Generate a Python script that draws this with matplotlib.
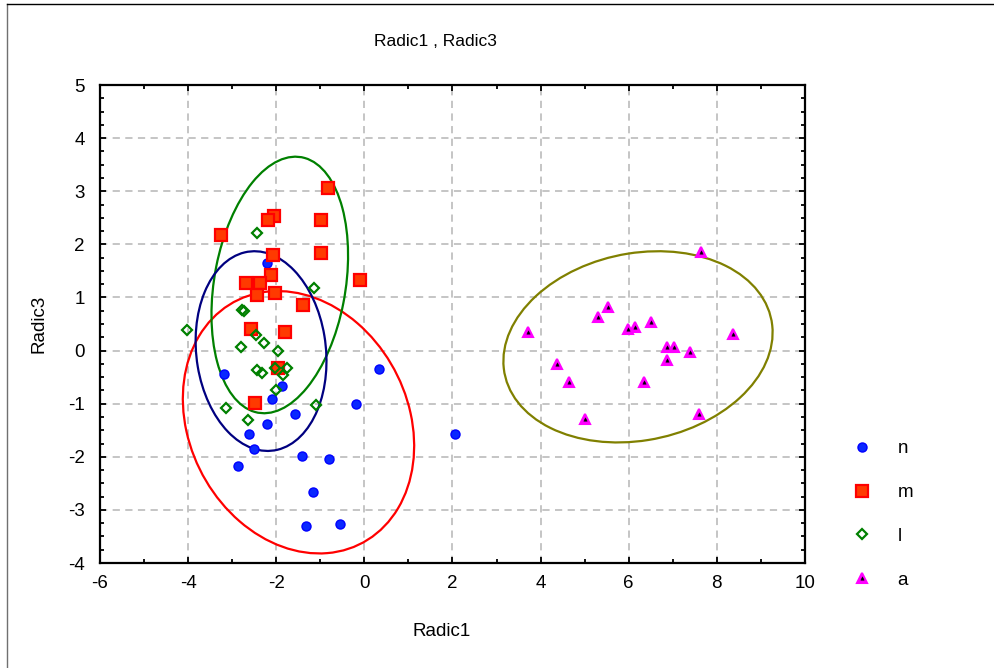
import numpy as np
import matplotlib.pyplot as plt
from matplotlib.patches import Ellipse
from matplotlib.lines import Line2D
from matplotlib.ticker import MultipleLocator
from matplotlib.legend_handler import HandlerTuple

plt.rcParams['font.family'] = ['Liberation Sans', 'DejaVu Sans']
plt.rcParams['axes.unicode_minus'] = False

# group scores (Radic1, Radic3)
n_x = [-2.21, -3.19, 0.33, -1.88, -2.10, -0.18, -1.58, -2.21, -2.62, -2.51,
       -1.42, -0.81, -2.87, -1.17, -1.32, -0.55, 2.05]
n_y = [1.64, -0.44, -0.35, -0.67, -0.92, -1.00, -1.19, -1.38, -1.57, -1.85,
       -1.99, -2.04, -2.18, -2.66, -3.31, -3.27, -1.57]

m_x = [-0.83, -2.06, -2.18, -0.98, -3.26, -0.98, -2.07, -0.10, -2.12, -2.69,
       -2.38, -2.44, -2.02, -1.39, -2.58, -1.81, -1.97, -2.48]
m_y = [3.06, 2.54, 2.45, 2.45, 2.17, 1.84, 1.79, 1.32, 1.42, 1.28,
       1.28, 1.04, 1.09, 0.86, 0.40, 0.34, -0.32, -0.98]

l_x = [-2.43, -1.14, -2.78, -2.74, -4.03, -2.47, -2.27, -2.79, -1.97, -2.44,
       -2.32, -2.02, -1.76, -1.85, -2.01, -3.15, -1.09, -2.64]
l_y = [2.22, 1.18, 0.76, 0.74, 0.38, 0.29, 0.14, 0.06, 0.00, -0.37,
       -0.43, -0.32, -0.32, -0.46, -0.75, -1.08, -1.03, -1.31]

a_x = [7.64, 5.52, 5.31, 3.71, 5.98, 6.14, 6.51, 8.37, 6.87, 7.02,
       7.38, 6.87, 4.38, 4.64, 6.35, 7.60, 5.01]
a_y = [1.85, 0.82, 0.63, 0.35, 0.40, 0.44, 0.54, 0.31, 0.07, 0.07,
       -0.03, -0.17, -0.26, -0.60, -0.60, -1.20, -1.29]

# ellipses per group: centre, half extent in x / y, correlation
ell_cx = [-1.495, -1.92, -2.345, 6.21]
ell_cy = [-1.35, 1.235, -0.01, 0.07]
ell_hx = [2.625, 1.55, 1.485, 3.055]
ell_hy = [2.47, 2.415, 1.88, 1.80]
ell_r = [-0.18, 0.23, -0.10, 0.15]
ell_colors = ['#ff0000', '#008000', '#000080', '#808000']

fig = plt.figure(figsize=(9.95, 6.68), dpi=100)
ax = fig.add_axes([100/995, 1-563/668, 705/995, 478/668])

for cx, cy, hx, hy, r, c in zip(ell_cx, ell_cy, ell_hx, ell_hy, ell_r, ell_colors):
    cov = np.array([[hx*hx, r*hx*hy], [r*hx*hy, hy*hy]])
    vals, vecs = np.linalg.eigh(cov)
    ang = np.degrees(np.arctan2(vecs[1, 1], vecs[0, 1]))
    ax.add_patch(Ellipse((cx, cy), 2*np.sqrt(vals[1]), 2*np.sqrt(vals[0]), angle=ang,
                         fill=False, edgecolor=c, linewidth=1.6, zorder=2))

hn, = ax.plot(n_x, n_y, 'o', ms=6.5, mfc='#0a28ff', mec='#0000ff', zorder=3)
hm, = ax.plot(m_x, m_y, 's', ms=9, mfc='#ff3a00', mec='#ff0000', mew=1.6, zorder=3)
hl, = ax.plot(l_x, l_y, 'D', ms=5.5, mfc='none', mec='#008000', mew=1.6, zorder=4)
ha, = ax.plot(a_x, a_y, '^', ms=7.5, mfc='#ff00ff', mec='#ff00ff', mew=1.5, zorder=3)
ha2, = ax.plot(a_x, a_y, '^', ms=2.5, mfc='black', mec='black', mew=0.3, zorder=4)

ax.set_xlim(-6, 10)
ax.set_ylim(-4, 5)
ax.set_xticks(np.arange(-6, 11, 2))
ax.set_yticks(np.arange(-4, 6, 1))
ax.xaxis.set_minor_locator(MultipleLocator(1))
ax.yaxis.set_minor_locator(MultipleLocator(0.25))
ax.tick_params(which='both', direction='in', top=True, right=True, width=1.3, colors='black')
ax.tick_params(which='major', length=4, labelsize=13.5)
ax.tick_params(which='minor', length=3)
ax.tick_params(axis='x', pad=9)
ax.tick_params(axis='y', pad=11)
for s in ax.spines.values():
    s.set_linewidth(1.6)
ax.grid(True, which='major', color='#c0c0c0', linestyle=(0, (4, 3)), linewidth=1.3)
ax.set_axisbelow(True)

ax.set_xlabel('Radic1', fontsize=13.5)
ax.xaxis.set_label_coords(0.484, -0.125)
ax.set_ylabel('Radic3', fontsize=13.5)
ax.yaxis.set_label_coords(-0.075, 0.5)
fig.text(435/995, 1-42/668, 'Radic1 , Radic3', ha='center', va='center', fontsize=12.5)

fig.legend([hn, hm, hl, (ha, ha2)], ['n', 'm', 'l', 'a'],
           handler_map={tuple: HandlerTuple(ndivide=1)},
           loc='center left', bbox_to_anchor=(849/995, 1-514.5/668),
           frameon=False, fontsize=13.5, labelspacing=1.42, handlelength=1.4,
           handletextpad=1.2, borderpad=0, borderaxespad=0)

# outer frame (left and top edges visible)
fig.add_artist(Line2D([7/995, 7/995], [0, 1-4/668], color='#707070', lw=1))
fig.add_artist(Line2D([7/995, 1], [1-4/668, 1-4/668], color='black', lw=1))

plt.savefig('out.png', dpi=100)
